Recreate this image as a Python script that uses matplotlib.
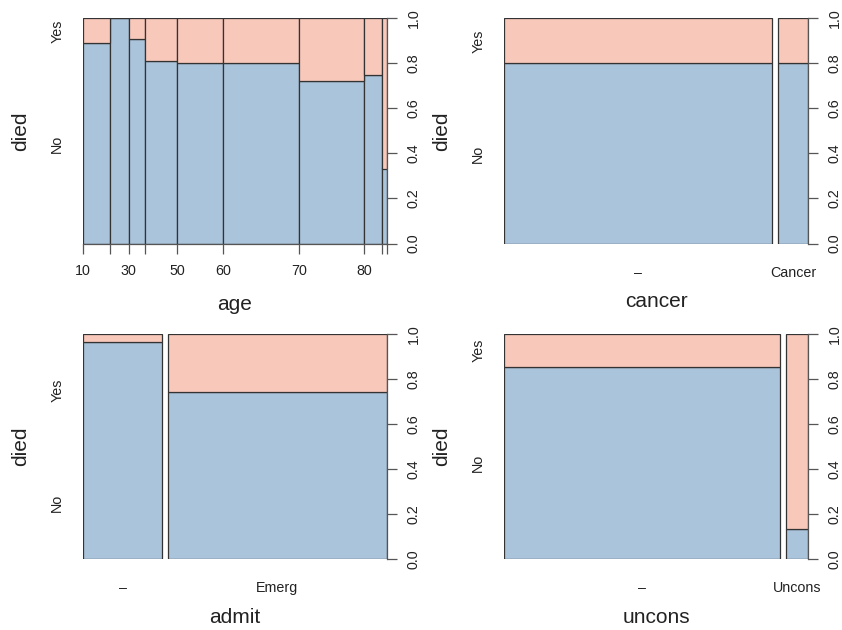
import numpy as np
import matplotlib
matplotlib.use("Agg")
import matplotlib.pyplot as plt

plt.rcParams['font.family'] = ['Liberation Sans', 'DejaVu Sans']

# ---- data (ICU: died ~ age / cancer / admit / uncons) ----
age_breaks = [10, 20, 30, 40, 50, 60, 70, 80, 90, 100]
age_tick_labels = ["10", "", "30", "", "50", "60", "70", "80", "", ""]
age_no = [16, 12, 10, 17, 24, 40, 31, 9, 1]
age_yes = [2, 0, 1, 4, 6, 10, 12, 3, 2]

cancer_levels = ["\u2013", "Cancer"]
cancer_no = [144, 16]
cancer_yes = [36, 4]

admit_levels = ["\u2013", "Emerg"]
admit_no = [51, 109]
admit_yes = [2, 38]

uncons_levels = ["\u2013", "Uncons"]
uncons_no = [158, 2]
uncons_yes = [27, 13]

y_levels = ["No", "Yes"]
ylab = "died"

COL_NO = "#AAC4DB"
COL_YES = "#F8C8BB"
EDGE = "#333333"
AXC = "#555555"
TXT = "#222222"
FS_TICK = 10.3
FS_LAB = 15

W, H = 842, 630
fig = plt.figure(figsize=(W / 100, H / 100), dpi=100)

def frac_rect(x0, y0, x1, y1):
    return [x0 / W, 1 - y1 / H, (x1 - x0) / W, (y1 - y0) / H]

panels = [
    (frac_rect(83, 18.5, 387, 243.5), "age", None, age_no, age_yes, 0.0),
    (frac_rect(504, 18.5, 808, 243.5), "cancer", cancer_levels, cancer_no, cancer_yes, 0.02),
    (frac_rect(83, 334, 387, 559), "admit", admit_levels, admit_no, admit_yes, 0.02),
    (frac_rect(504, 334, 808, 559), "uncons", uncons_levels, uncons_no, uncons_yes, 0.02),
]

for rect, xlab, levels, no, yes, off in panels:
    ax = fig.add_axes(rect)
    no = np.array(no, float)
    yes = np.array(yes, float)
    n = no + yes
    widths = n / n.sum()
    k = len(n)
    lefts = np.concatenate([[0], np.cumsum(widths + off)[:-1]])
    pno = no / n
    ax.bar(lefts, pno, widths, bottom=0, align='edge', color=COL_NO,
           edgecolor=EDGE, linewidth=0.9, zorder=2)
    ax.bar(lefts, 1 - pno, widths, bottom=pno, align='edge', color=COL_YES,
           edgecolor=EDGE, linewidth=0.9, zorder=2)
    ax.set_xlim(0, 1 + off * (k - 1))
    ax.set_ylim(0, 1)
    for s in ["top", "left"]:
        ax.spines[s].set_visible(False)
    ax.spines["right"].set_color(AXC)
    ax.spines["right"].set_linewidth(0.9)
    ax.yaxis.tick_right()
    ax.set_yticks([0, 0.2, 0.4, 0.6, 0.8, 1.0])
    ax.set_yticklabels(["0.0", "0.2", "0.4", "0.6", "0.8", "1.0"],
                       rotation=90, va="center", fontsize=FS_TICK, color=TXT)
    ax.tick_params(axis="y", direction="out", length=7, width=0.9, color=AXC, pad=7)

    if levels is None:
        # numeric x axis (age)
        pos = np.concatenate([[0], np.cumsum(widths)])
        ax.spines["bottom"].set_color(AXC)
        ax.spines["bottom"].set_linewidth(0.9)
        ax.set_xticks(pos)
        ax.set_xticklabels(age_tick_labels, fontsize=FS_TICK, color=TXT)
        ax.tick_params(axis="x", direction="out", length=7, width=0.9, color=AXC, pad=8)
        ax.set_xlabel(xlab, fontsize=FS_LAB, labelpad=12, color=TXT)
    else:
        ax.spines["bottom"].set_visible(False)
        ax.set_xticks(lefts + widths / 2)
        ax.set_xticklabels(levels, fontsize=FS_TICK, color=TXT)
        ax.tick_params(axis="x", length=0, pad=16)
        ax.set_xlabel(xlab, fontsize=FS_LAB, labelpad=9, color=TXT)

    # left category labels (R spineplot rule)
    yat = np.array([0, pno[0], 1])
    if np.any(np.diff(yat) < 0.05):
        ypos = [0.25, 0.75]
    else:
        ypos = (yat[1:] + yat[:-1]) / 2
    for yp, lab in zip(ypos, y_levels):
        ax.text(-0.085, yp, lab, transform=ax.get_yaxis_transform(),
                rotation=90, ha="center", va="center", fontsize=FS_TICK, color=TXT)
    ax.text(-0.205, 0.5, ylab, transform=ax.transAxes, rotation=90,
            ha="center", va="center", fontsize=FS_LAB, color=TXT)

fig.savefig("out.png", dpi=100)
